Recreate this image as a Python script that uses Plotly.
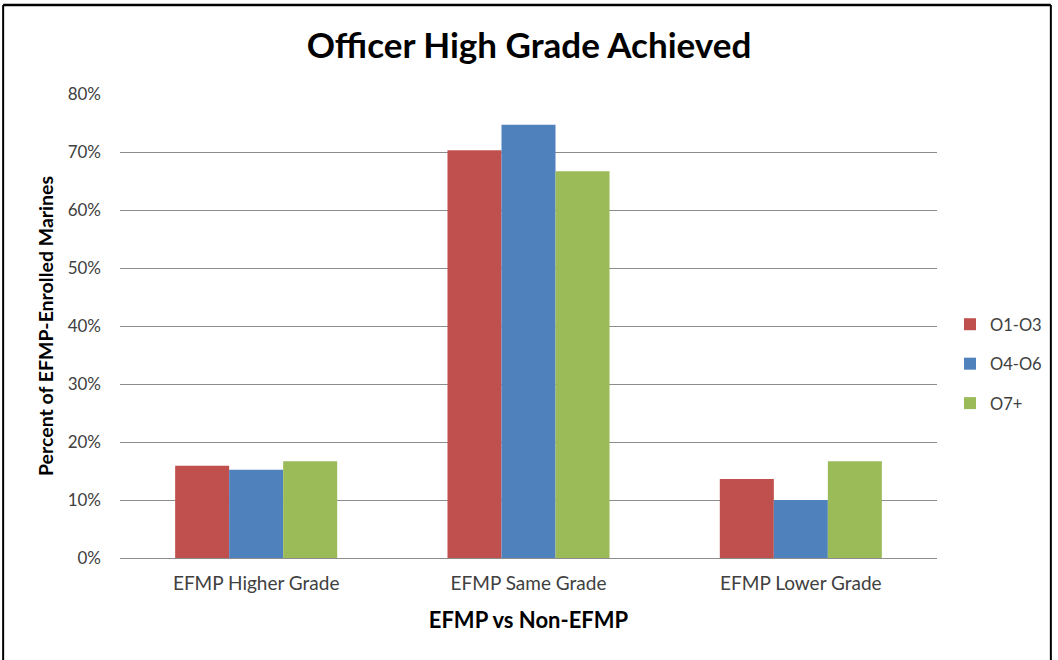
import plotly.graph_objects as go

categories = ["EFMP Higher Grade", "EFMP Same Grade", "EFMP Lower Grade"]
series_names = ["O1-O3", "O4-O6", "O7+"]
o1_o3 = [0.159, 0.703, 0.136]
o4_o6 = [0.152, 0.747, 0.100]
o7_plus = [0.167, 0.667, 0.167]
colors = ["#C0504D", "#4F81BD", "#9BBB59"]
tick_vals = [0, 0.1, 0.2, 0.3, 0.4, 0.5, 0.6, 0.7, 0.8]
tick_text = ["0%", "10%", "20%", "30%", "40%", "50%", "60%", "70%", "80%"]

FONT = "Lato, Open Sans, sans-serif"

fig = go.Figure()
for name, vals, col in zip(series_names, [o1_o3, o4_o6, o7_plus], colors):
    fig.add_trace(go.Bar(x=categories, y=vals, name=name, marker_color=col,
                         marker_line_width=0, legendgroup=name))

W, H = 1058, 660
L, T = 120, 94
pw, ph = 818, 464
R, B = W - L - pw, H - T - ph

def px_x(p):
    return (p - L) / pw

def px_y(p):
    return (T + ph - p) / ph

fig.update_layout(
    width=W, height=H,
    margin=dict(l=L, r=R, t=T, b=B),
    paper_bgcolor="white", plot_bgcolor="white",
    barmode="group", bargap=0.405, bargroupgap=0,
    font=dict(family=FONT, size=16, color="#404040"),
    title=dict(text="<b>Officer High Grade Achieved</b>", x=0.5, xanchor="center",
               y=1 - 46 / H, yanchor="middle",
               font=dict(family=FONT, size=35, color="#000000")),
    xaxis=dict(showgrid=False, showline=False, ticks="",
               ticklabelstandoff=12,
               tickfont=dict(size=19, color="#404040"),
               title=dict(text="<b>EFMP vs Non-EFMP</b>", standoff=19,
                          font=dict(size=22, color="#000000"))),
    yaxis=dict(range=[0, 0.8], tickvals=tick_vals, ticktext=tick_text,
               showgrid=True, gridcolor="#8C8C8C", gridwidth=1,
               zeroline=True, zerolinecolor="#8C8C8C", zerolinewidth=1,
               showline=False, ticks="", ticklabelstandoff=18,
               tickfont=dict(size=17, color="#404040"),
               title=dict(text="<b>Percent of EFMP-Enrolled Marines</b>", standoff=8,
                          font=dict(size=19.5, color="#000000"))),
    legend=dict(x=px_x(950), xanchor="left", y=px_y(364), yanchor="middle",
                font=dict(size=16.5, color="#404040"), tracegroupgap=15,
                itemwidth=30, bgcolor="rgba(0,0,0,0)"),
    showlegend=True,
)

# outer frame
fig.add_shape(type="line", xref="paper", yref="paper",
              x0=px_x(3), x1=px_x(1052), y0=px_y(5), y1=px_y(5),
              line=dict(color="#000000", width=2.5))
fig.add_shape(type="line", xref="paper", yref="paper",
              x0=px_x(3), x1=px_x(3), y0=px_y(5), y1=px_y(665),
              line=dict(color="#000000", width=2))
fig.add_shape(type="line", xref="paper", yref="paper",
              x0=px_x(1052), x1=px_x(1052), y0=px_y(5), y1=px_y(665),
              line=dict(color="#000000", width=2))

post = (
    "document.documentElement.style.overflow='hidden';"
    "document.body.style.margin='0';document.body.style.overflow='hidden';"
)

fig.write_html("out.html", config={"displayModeBar": False}, post_script=post)
